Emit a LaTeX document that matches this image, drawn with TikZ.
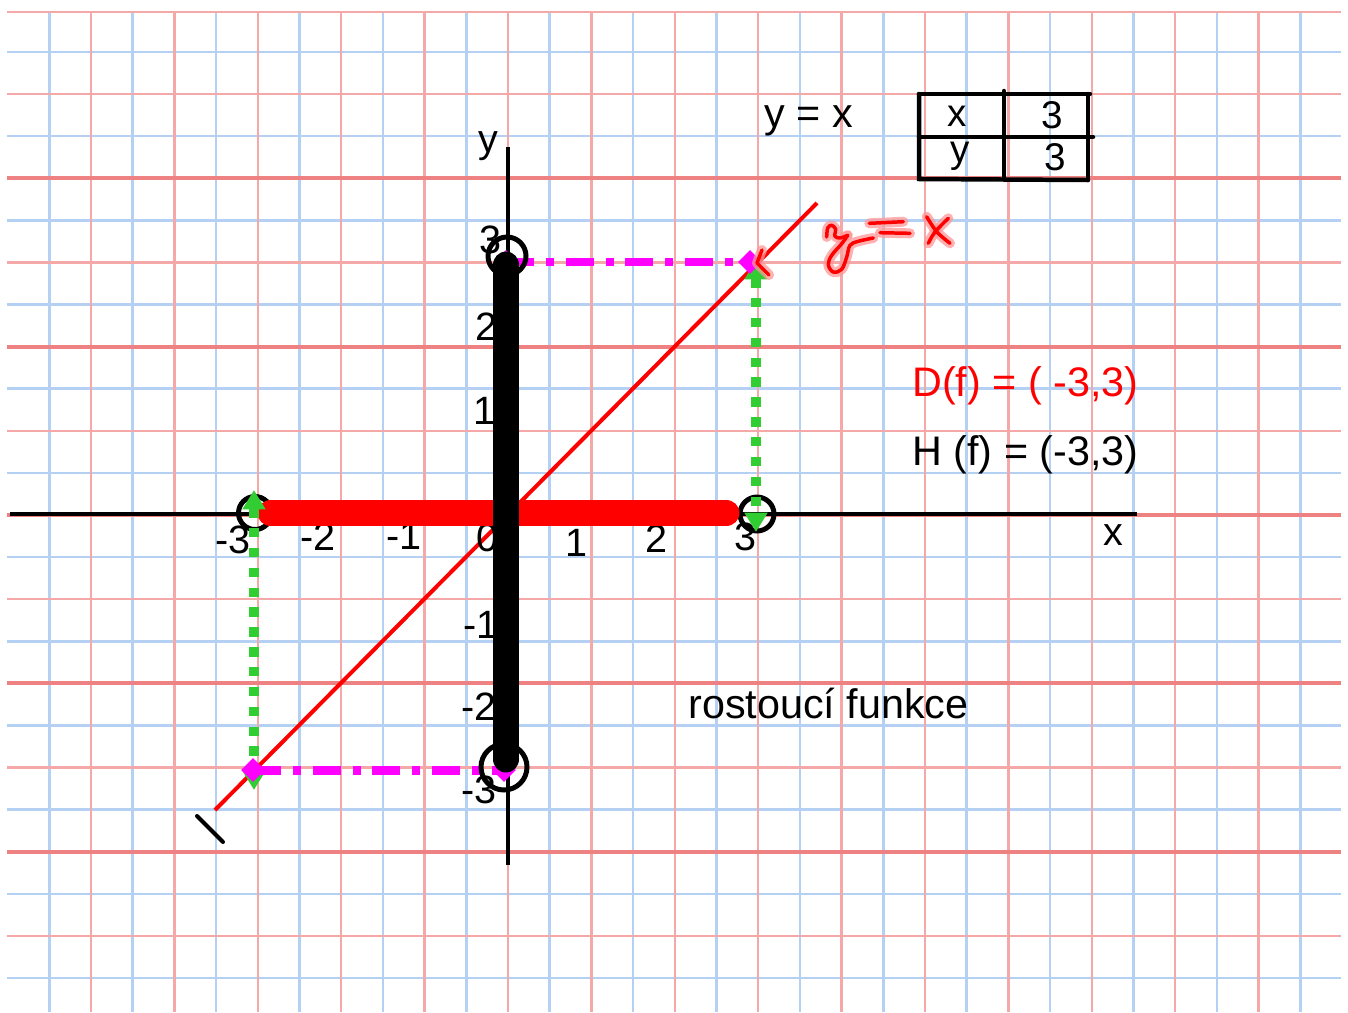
\documentclass[tikz,border=0pt]{standalone}
\usepackage{fontspec}
\setmainfont{Liberation Sans}
\usetikzlibrary{arrows.meta,shapes.geometric}
\def\px{0.5669pt}
\definecolor{gblue}{RGB}{180,208,242}
\definecolor{gred}{RGB}{244,168,168}
\definecolor{gredd}{RGB}{238,130,130}
\definecolor{lgreen}{RGB}{50,205,50}
\definecolor{mag}{RGB}{255,0,255}
\definecolor{halo}{RGB}{255,150,150}
\tikzset{
  gridb/.style={gblue, line width=2.5*\px},
  gridr/.style={gred, line width=2.5*\px},
  gridR/.style={gredd, line width=4*\px},
  axisline/.style={black, line width=3.5*\px},
  lbl/.style={font=\fontsize{23.5pt}{27pt}\selectfont, inner sep=0pt},
  ticklbl/.style={font=\fontsize{22.5pt}{26pt}\selectfont, inner sep=0pt},
  tablbl/.style={font=\fontsize{22pt}{25pt}\selectfont, inner sep=0pt},
  tabline/.style={black, line width=4.5*\px, line cap=round},
  ring/.style={black, line width=5*\px},
  gline/.style={lgreen, line width=10*\px, dash pattern=on 5.4pt off 5.9pt,
    {Triangle[width=12.5pt,length=11pt]}-{Triangle[width=12.5pt,length=11pt]}},
  mline/.style={mag, line width=9*\px, dash pattern=on 15.9pt off 6.8pt on 4.5pt off 6.8pt},
  mdiam/.style={diamond, fill=mag, inner sep=0pt, minimum size=24*\px},
  hwhalo/.style={halo, opacity=0.75, line width=10*\px, line cap=round, line join=round},
  hwcore/.style={red, line width=3.5*\px, line cap=round, line join=round},
}
\begin{document}
\begin{tikzpicture}[x=0.02cm,y=-0.02cm]
\useasboundingbox (0,0) rectangle (1348,1012);
\fill[white] (0,0) rectangle (1348,1012);
% grid
\foreach \k in {-11,-9,...,19} \draw[gridb] ({508+41.7*\k},12) -- ({508+41.7*\k},1012);
\foreach \j in {-11,-9,...,11} \draw[gridb] (7,{515+42.1*\j}) -- (1341,{515+42.1*\j});
\foreach \k in {-10,-8,...,18} \draw[gridr] ({508+41.7*\k},12) -- ({508+41.7*\k},1012);
\foreach \j in {-10,-6,-2,2,6,10} \draw[gridr] (7,{515+42.1*\j}) -- (1341,{515+42.1*\j});
\foreach \j in {-8,-4,0,4,8} \draw[gridR] (7,{515+42.1*\j}) -- (1341,{515+42.1*\j});
\draw[gridr] (7,12) -- (1341,12);
% key points
\coordinate (O) at (508,514);
\coordinate (xl) at (10,514);
\coordinate (xr) at (1137,514);
\coordinate (yt) at (508,147);
\coordinate (yb) at (508,865);
\coordinate (Lend) at (215,810);
\coordinate (Rend) at (817,203);
\coordinate (m1) at (197,816);
\coordinate (m2) at (223,842);
% axes
\draw[axisline] (xl) -- (xr);
\draw[axisline] (yt) -- (yb);
% y = x line
\draw[red, line width=4*\px] (Lend) -- (Rend);
\draw[black, line width=4*\px, line cap=round] (m1) -- (m2);
% tick labels
\node[ticklbl] (xm3) at (233,540) {-3};
\node[ticklbl] (xm2) at (318,537) {-2};
\node[ticklbl] (xm1) at (404,536) {-1};
\node[ticklbl] (x0) at (487,538) {0};
\node[ticklbl] (x1) at (576,543) {1};
\node[ticklbl] (x2) at (656,539) {2};
\node[ticklbl] (x3) at (745,537) {3};
\node[ticklbl] (y3) at (490,240) {3};
\node[ticklbl] (y2) at (486,327) {2};
\node[ticklbl] (y1) at (484,411) {1};
\node[ticklbl] (ym1) at (481,625) {-1};
\node[ticklbl] (ym2) at (479,707) {-2};
\node[ticklbl] (ym3) at (479,790) {-3};
\node[ticklbl] (ylab) at (488,146) {y};
\node[ticklbl] (xlab) at (1113,535) {x};
% texts
\node[lbl, anchor=base west] (eq) at (764,127) {y = x};
\node[lbl, anchor=base west, text=red] (D) at (912,396) {D(f) = ( -3,3)};
\node[lbl, anchor=base west] (H) at (912,465) {H (f) = (-3,3)};
\node[lbl, anchor=base west] (ros) at (688,718) {rostoucí funkce};
% table
\coordinate (t1) at (919,94);
\coordinate (t2) at (1090,94);
\coordinate (t3) at (1088,180);
\coordinate (t4) at (919,179);
\coordinate (tm1) at (919,137);
\coordinate (tm2) at (1093,137);
\coordinate (tv1) at (1004,91);
\coordinate (tv2) at (1004,178);
\draw[tabline] (t1) -- (t2);
\draw[tabline] (1088,94) -- (t3);
\draw[tabline] (t1) -- (t4) -- (t3);
\draw[tabline] (tm1) -- (tm2);
\draw[tabline] (tv1) -- (tv2);
\node[tablbl, anchor=base] (tx) at (957,126) {x};
\node[tablbl, anchor=base] (t3a) at (1052,128) {3};
\node[tablbl, anchor=base] (ty) at (960,162) {y};
\node[tablbl, anchor=base] (t3b) at (1055,170) {3};
% open circles on x axis
\coordinate (cL) at (255,513);
\coordinate (cR) at (757,514);
\coordinate (cT) at (507,256);
\coordinate (cB) at (504,767);
\draw[ring] (cL) circle[radius=16.5];
\draw[ring] (cR) circle[radius=17];
% red bar (domain)
\coordinate (rb1) at (271,513);
\coordinate (rb2) at (726,513);
\draw[red, line width=27*\px, line cap=round] (rb1) -- (rb2);
% green dotted arrows
\coordinate (gL1) at (254,490);
\coordinate (gL2) at (254,790);
\coordinate (gR1) at (756,260);
\coordinate (gR2) at (756,532);
\draw[gline] (gL1) -- (gL2);
\draw[gline] (gR1) -- (gR2);
% magenta dash-dot lines
\coordinate (pT) at (506,262);
\coordinate (pTR) at (750,262);
\coordinate (pBL) at (253,770);
\coordinate (pB) at (504,770);
\draw[mline] (pT) -- (pTR);
\draw[mline] (pBL) -- (pB);
\node[mdiam] (dT) at (pT) {};
\node[mdiam] (dTR) at (pTR) {};
\node[mdiam] (dBL) at (pBL) {};
\node[mdiam] (dB) at (pB) {};
% circles on y axis
\draw[ring] (cT) circle[radius=19];
\draw[ring] (cB) circle[radius=23];
% black bar (range)
\coordinate (bb1) at (506,265);
\coordinate (bb2) at (506,759);
\draw[black, line width=27*\px, line cap=round] (bb1) -- (bb2);
% handwritten y = x
\foreach \s in {hwhalo,hwcore}{
  \draw[\s] plot[smooth, tension=0.6] coordinates {(826.7,237) (827.7,228) (831.7,225.3) (835.7,229.3) (834.8,236) (840,238) (847.7,235.3)};
  \draw[\s] plot[smooth, tension=0.6] coordinates {(847.7,235.3) (841.7,243.7) (831.7,255.3) (828.3,264.7) (833.3,272) (841.7,269.3) (846.7,257) (850,245.3) (858.3,241.3) (873.3,238)};
  \draw[\s] (869.3,223.3) -- (903.3,221.7);
  \draw[\s] (880,232.7) -- (910,233.3);
  \draw[\s] plot[smooth, tension=0.6] coordinates {(926.7,216.7) (936.7,231.7) (950,243.3)};
  \draw[\s] plot[smooth, tension=0.6] coordinates {(948.3,218.3) (935,232) (928.3,243.3)};
  \draw[\s] (762,250) -- (757,263) -- (769,275);
}
\end{tikzpicture}
\end{document}
